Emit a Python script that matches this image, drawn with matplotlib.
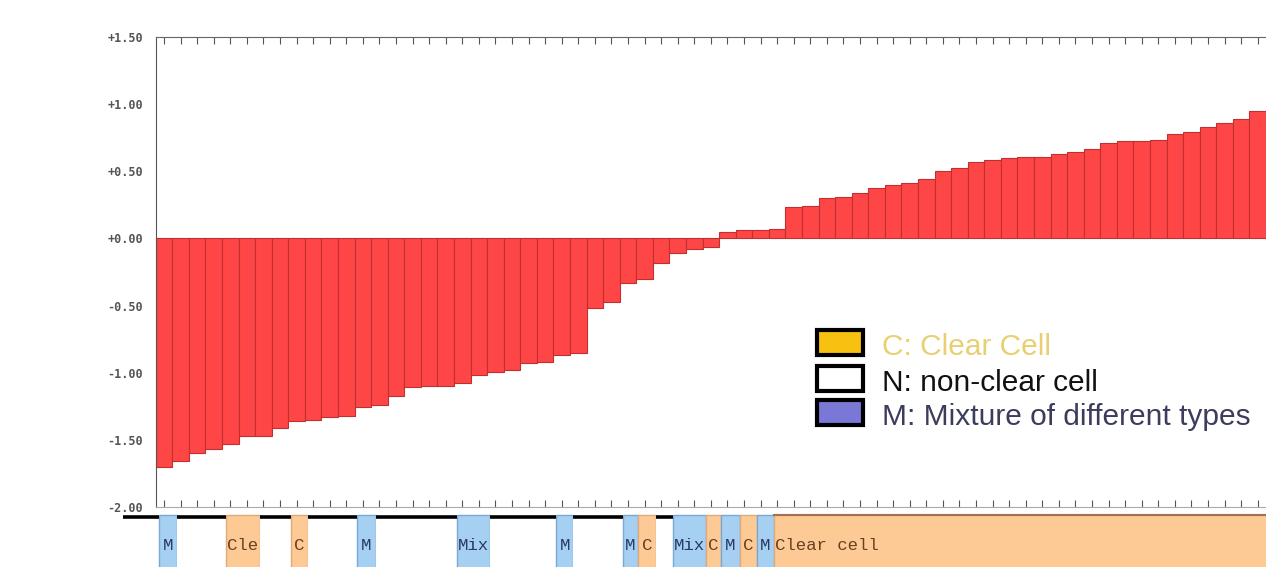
import numpy as np
import matplotlib
matplotlib.use("Agg")
import matplotlib.pyplot as plt
from matplotlib.patches import Rectangle

# ---------------- data ----------------
values = [-1.70, -1.66, -1.60, -1.565, -1.53, -1.47, -1.47, -1.41, -1.36, -1.35,
          -1.33, -1.32, -1.255, -1.24, -1.17, -1.11, -1.10, -1.10, -1.08, -1.02,
          -0.995, -0.98, -0.93, -0.92, -0.87, -0.85, -0.52, -0.47, -0.33, -0.30,
          -0.18, -0.11, -0.077, -0.065, 0.047, 0.065, 0.065, 0.072, 0.233, 0.245,
          0.30, 0.31, 0.34, 0.375, 0.40, 0.415, 0.445, 0.505, 0.525, 0.57,
          0.585, 0.60, 0.61, 0.61, 0.63, 0.645, 0.667, 0.71, 0.725, 0.725,
          0.73, 0.78, 0.79, 0.83, 0.86, 0.89, 0.95]
yticks = [1.5, 1.0, 0.5, 0.0, -0.5, -1.0, -1.5, -2.0]
ytick_labels = ["+1.50", "+1.00", "+0.50", "+0.00", "-0.50", "-1.00", "-1.50", "-2.00"]

# annotation strip: (start, end) in bar units, type, label
seg_start = [-1.96, 0.22, 1.30, 4.24, 6.29, 8.15, 9.21, 12.13, 13.30, 18.20, 20.17,
             24.16, 25.20, 28.22, 29.08, 30.18, 31.19, 33.18, 34.13, 35.24, 36.29, 37.30]
seg_end = [0.22, 1.30, 4.24, 6.29, 8.15, 9.21, 12.13, 13.30, 18.20, 20.17, 24.16,
           25.20, 28.22, 29.08, 30.18, 31.19, 33.18, 34.13, 35.24, 36.29, 37.30, 68.0]
seg_type = ["N", "M", "N", "C", "N", "C", "N", "M", "N", "M", "N",
            "M", "N", "M", "C", "N", "M", "C", "M", "C", "M", "C"]
seg_label = ["", "M", "", "Cle", "", "C", "", "M", "", "Mix", "",
             "M", "", "M", "C", "", "Mix", "C", "M", "C", "M", "Clear cell"]

legend_labels = ["C: Clear Cell", "N: non-clear cell", "M: Mixture of different types"]
legend_fill = ["#f8c010", "#ffffff", "#7a78d6"]
legend_text_color = ["#e8d070", "#111111", "#3c3c5c"]

# ---------------- figure ----------------
W, H = 1266, 567
fig = plt.figure(figsize=(W / 100, H / 100), dpi=100)
fig.patch.set_facecolor("white")

ax_left = 155.7
ax = fig.add_axes([ax_left / W, 60 / H, (W - ax_left) / W, 470 / H])
n = len(values)
idx = np.arange(n)
ax.bar(idx, values, width=1.0, align="edge", color="#ff4646",
       edgecolor="#c03030", linewidth=0.8, zorder=2)
ax.set_xlim(0, n)
ax.set_ylim(-2.0, 1.5)
ax.set_yticks(yticks)
ax.set_yticklabels(ytick_labels, fontfamily="DejaVu Sans Mono", fontweight="bold",
                   fontsize=8.5, color="#555555")
ax.tick_params(axis="y", length=0, pad=9)
ax.set_xticks(idx + 0.5)
ax.tick_params(axis="x", top=True, bottom=True, direction="in", length=5,
               labelbottom=False, labeltop=False, color="#555555", width=0.8)
ax.spines["right"].set_visible(False)
ax.spines["left"].set_color("#555555")
ax.spines["top"].set_color("#666666")
ax.spines["bottom"].set_color("#aaaaaa")

# ---------------- annotation strip ----------------
bw = (W - ax_left) / n
strip_h = 58
sax = fig.add_axes([0, 0, 1, strip_h / H])
sax.set_xlim(-ax_left / bw, (W - ax_left) / bw)
sax.set_ylim(0, strip_h)
sax.set_facecolor("white")
sax.axis("off")
fills = {"N": "#ffffff", "C": "#fdca96", "M": "#a6d0f2"}
edges = {"N": "none", "C": "#e0aa78", "M": "#78a8d8"}
tcol = {"C": "#6a4020", "M": "#2a3a6a", "N": "#000000"}
top = 50  # pixels above figure bottom (y = 517)
for s0, s1, t, lab in zip(seg_start, seg_end, seg_type, seg_label):
    hgt = top + 10 + (2 if t != "N" else 0)
    sax.add_patch(Rectangle((s0, -10), s1 - s0, hgt,
                            facecolor=fills[t], edgecolor=edges[t], linewidth=1.0))
    if t == "N":
        sax.plot([s0, s1], [top, top], color="black", lw=2.6, solid_capstyle="butt")
    if lab:
        if lab == "Clear cell":
            sax.plot([s0, s1], [top + 2, top + 2], color="#a07050", lw=1.5)
            sax.text(s0 + 0.1, 22, lab, ha="left", va="center",
                     fontfamily="Liberation Mono", fontsize=12.5, color=tcol[t])
        else:
            sax.text((s0 + s1) / 2, 22, lab, ha="center", va="center",
                     fontfamily="Liberation Mono", fontsize=12.5, color=tcol[t])

# ---------------- legend ----------------
row_base = [355, 391, 425]
for lab, fc, tc, yb in zip(legend_labels, legend_fill, legend_text_color, row_base):
    fig.add_artist(Rectangle((817 / W, 1 - yb / H), 46 / W, 25 / H,
                             transform=fig.transFigure, facecolor=fc,
                             edgecolor="black", linewidth=3.0, zorder=5))
    fig.text(882 / W, 1 - yb / H, lab, fontsize=21.5, fontfamily="Liberation Sans",
             color=tc, ha="left", va="baseline", zorder=5)

fig.savefig("out.png", dpi=100)
